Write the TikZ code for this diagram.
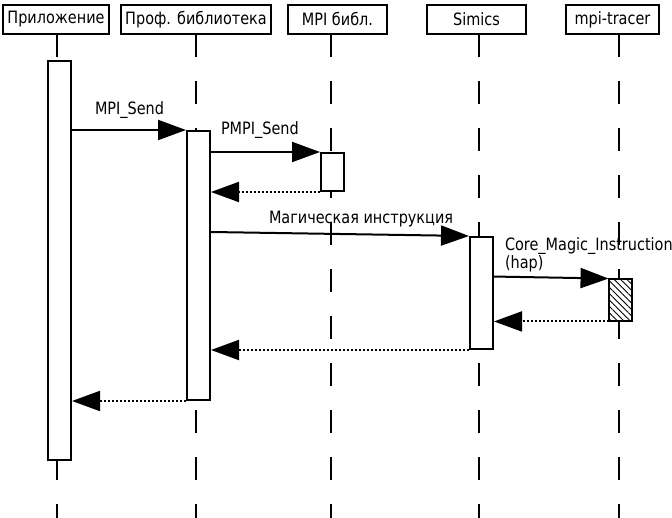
\documentclass[tikz,border=0pt]{standalone}
\usepackage{fontspec}
\setmainfont{DejaVu Sans}[FakeStretch=0.85]
\usetikzlibrary{arrows.meta, calc, patterns.meta}

\begin{document}
\begin{tikzpicture}[
    x=1pt, y=-1pt,
    font=\fontsize{17}{14}\selectfont,
    head/.style={rectangle, draw, line width=2pt, minimum height=29pt, inner sep=0pt},
    lifeline/.style={line width=2pt, dash pattern=on 23pt off 24pt},
    actbox/.style={rectangle, draw, fill=white, line width=2pt, minimum width=23pt, inner sep=0pt},
    call/.style={-{Triangle[length=28pt, width=20pt]}, line width=2pt},
    reply/.style={-{Triangle[length=28pt, width=20pt]}, line width=2pt, dash pattern=on 2pt off 2pt},
    lbl/.style={inner sep=0pt, anchor=base west}
]
\useasboundingbox (0,0) rectangle (672,518);

\node[head, minimum width=106pt] (appHead) at (56,19.5) {Приложение};
\node[head, minimum width=150pt] (profHead) at (196,19.5) {Проф. библиотека};
\node[head, minimum width=99pt] (mpiHead) at (337.5,19.5) {MPI библ.};
\node[head, minimum width=99pt] (simHead) at (476.5,19.5) {Simics};
\node[head, minimum width=93pt] (trHead) at (612.5,19.5) {mpi-tracer};

\foreach \n/\x in {app/57, prof/196, mpi/331, sim/479, tr/619} {
    \coordinate (\n Top) at (\x,34);
    \coordinate (\n Bot) at (\x,518);
    \draw[lifeline] (\n Top) -- (\n Bot);
}

\node[actbox, minimum height=399pt] (appAct) at (59.5,260.5) {};
\node[actbox, minimum height=269pt] (profAct) at (198.5,265.5) {};
\node[actbox, minimum height=38pt] (mpiAct) at (332.5,172) {};
\node[actbox, minimum height=112pt] (simAct) at (481.5,293) {};
\node[actbox, minimum height=42pt, preaction={fill=white},
    pattern={Lines[angle=-45, distance=4.5pt, line width=0.9pt]}] (trAct) at (620.5,300) {};

\draw[call] (appAct.east |- profAct.north) -- (profAct.north west)
    node[lbl, pos=0, xshift=22pt, yshift=15pt] {MPI\_Send};
\draw[call] (profAct.east |- mpiAct.north) -- (mpiAct.north west)
    node[lbl, pos=0, xshift=9pt, yshift=17pt] {PMPI\_Send};
\draw[reply] (mpiAct.south west) -- (profAct.east |- mpiAct.south);
\draw[call] ($(profAct.east |- simAct.north)+(0,-4)$) -- (simAct.north west)
    node[lbl, pos=0, xshift=57pt, yshift=8pt] {Магическая инструкция};
\draw[call] ($(simAct.east |- trAct.north)+(0,-2)$) -- (trAct.north west)
    node[pos=0, anchor=south west, inner sep=0pt, align=left, xshift=10pt, yshift=4pt] {Core\_Magic\_Instruction\\(hap)};
\draw[reply] (trAct.south west) -- (simAct.east |- trAct.south);
\draw[reply] (simAct.south west) -- (profAct.east |- simAct.south);
\draw[reply] (profAct.south west) -- (appAct.east |- profAct.south);

\end{tikzpicture}
\end{document}
